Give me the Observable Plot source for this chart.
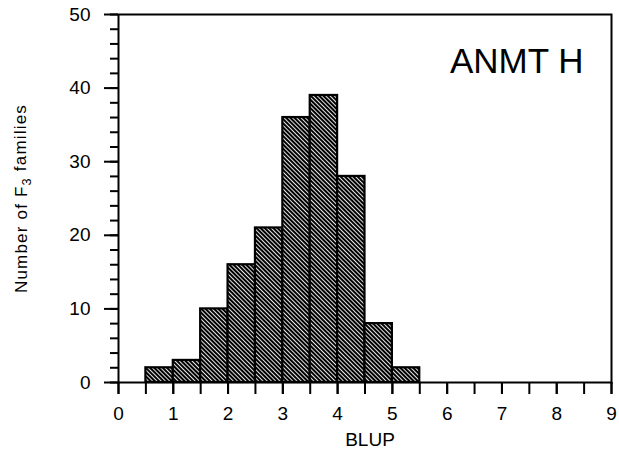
<!DOCTYPE html>
<html>
<head>
<meta charset="utf-8">
<script src="https://cdn.jsdelivr.net/npm/d3@7"></script>
<script src="https://cdn.jsdelivr.net/npm/@observablehq/plot@0.6"></script>
<style>
  html, body { margin: 0; padding: 0; background: #fff; }
</style>
</head>
<body>
<div id="chart"></div>
<script>
// Histogram data
const binEdges = [0.5, 1, 1.5, 2, 2.5, 3, 3.5, 4, 4.5, 5, 5.5];
const counts = [2, 3, 10, 16, 21, 36, 39, 28, 8, 2];
const xMajorTicks = [0, 1, 2, 3, 4, 5, 6, 7, 8, 9];
const xMinorTicks = [0, 0.5, 1, 1.5, 2, 2.5, 3, 3.5, 4, 4.5, 5, 5.5, 6, 6.5, 7, 7.5, 8, 8.5, 9];
const yMajorTicks = [0, 10, 20, 30, 40, 50];
const yMinorTicks = [0, 2, 4, 6, 8, 10, 12, 14, 16, 18, 20, 22, 24, 26, 28, 30, 32, 34, 36, 38, 40, 42, 44, 46, 48, 50];
const panelLabel = "ANMT H";
const xLabel = "BLUP";
const yLabel = "Number of F3 families";

const bins = counts.map((c, i) => ({x1: binEdges[i], x2: binEdges[i + 1], count: c}));

const plot = Plot.plot({
  width: 619,
  height: 452,
  marginLeft: 118,
  marginRight: 8,
  marginTop: 14,
  marginBottom: 70,
  style: {fontFamily: "'Liberation Sans', Arial, Helvetica, sans-serif", fontSize: "19px", background: "#fff", color: "#000"},
  x: {domain: [0, 9], axis: null},
  y: {domain: [0, 50], axis: null},
  marks: [
    Plot.rectY(bins, {x1: "x1", x2: "x2", y: "count", fill: "url(#hatch)", stroke: "#000", strokeWidth: 2.2}),
    Plot.frame({stroke: "#000", strokeWidth: 2}),
    Plot.axisY({ticks: yMinorTicks, tickSize: 8, text: null, label: null, strokeWidth: 2}),
    Plot.axisY({ticks: yMajorTicks, tickSize: 14, tickPadding: 14, label: null, strokeWidth: 2, fontSize: 19, tickFormat: d => String(d)}),
    Plot.axisX({ticks: xMinorTicks, tickSize: 12, text: null, label: null, strokeWidth: 2}),
    Plot.axisX({ticks: xMajorTicks, tickSize: 12, tickPadding: 12, label: null, strokeWidth: 2, fontSize: 19, tickFormat: d => String(d)}),
    Plot.text([panelLabel], {frameAnchor: "top-right", textAnchor: "end", dx: -28, dy: 34, fontSize: 35, fill: "#000"}),
    Plot.text([xLabel], {frameAnchor: "bottom", lineAnchor: "top", dx: 5, dy: 50, fontSize: 19, fill: "#000"}),
    Plot.text([yLabel], {frameAnchor: "left", textAnchor: "middle", rotate: -90, dx: -97, fontSize: 17, fill: "#000"})
  ]
});

// Hatch pattern definition
const svg = d3.select(plot);
const defs = svg.insert("defs", ":first-child");
const pat = defs.append("pattern")
  .attr("id", "hatch")
  .attr("patternUnits", "userSpaceOnUse")
  .attr("width", 3)
  .attr("height", 3)
  .attr("patternTransform", "rotate(-45)");
pat.append("rect").attr("width", 3).attr("height", 3).attr("fill", "#000");
pat.append("rect").attr("x", 0).attr("y", 0).attr("width", 0.9).attr("height", 3).attr("fill", "#fff");

// Subscript for the y label
svg.selectAll("text").each(function() {
  if (this.textContent === yLabel) {
    const t = d3.select(this);
    t.text(null).attr("letter-spacing", "1.2px");
    t.append("tspan").text("Number of F");
    t.append("tspan").attr("dy", "0.3em").attr("font-size", "0.75em").text("3");
    t.append("tspan").attr("dy", "-0.3em").text(" families");
  }
});

document.getElementById("chart").appendChild(plot);
</script>
</body>
</html>
